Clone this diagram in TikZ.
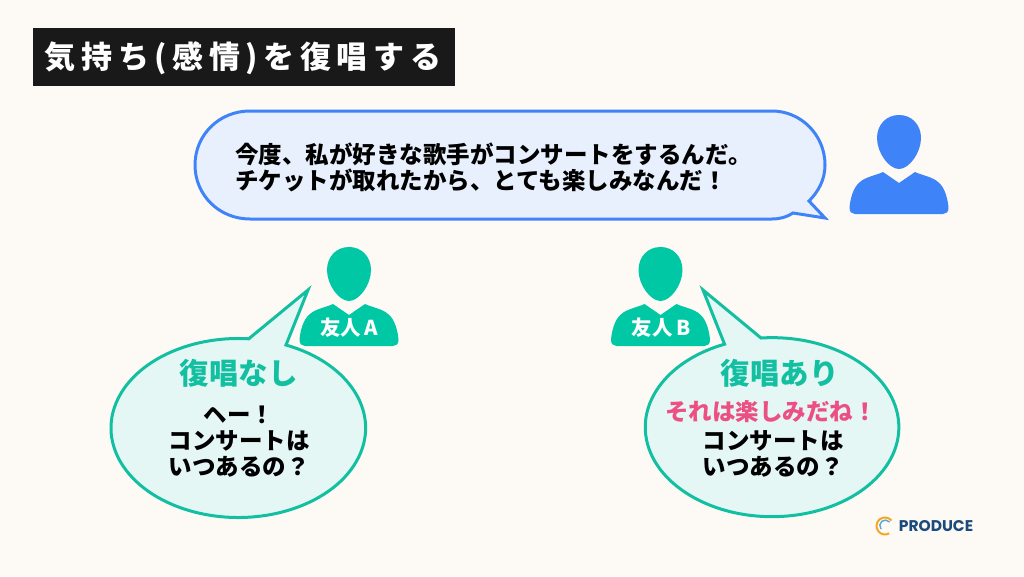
\documentclass[tikz,border=0pt]{standalone}
\usepackage{fontspec}
\setmainfont{Noto Sans CJK JP}
\newfontfamily\logofont{Poppins}
\definecolor{paper}{HTML}{FDFAF5}
\definecolor{speaker}{HTML}{3F83F8}
\definecolor{speakerfill}{HTML}{E9F0FD}
\definecolor{friend}{HTML}{12BFA0}
\definecolor{friendbody}{HTML}{00C8A5}
\definecolor{friendfill}{HTML}{E4F7F5}
\definecolor{accent}{HTML}{EC5082}
\definecolor{logoblue}{HTML}{1C4A7C}
\definecolor{logoorange}{HTML}{F5A623}
\definecolor{logosky}{HTML}{4FA8D8}

\begin{document}
\begin{tikzpicture}[x=1pt, y=-1pt,
    every node/.style={font=\bfseries, align=center, inner sep=0pt},
    body/.style={font=\bfseries\fontsize{23.5}{26}\selectfont},
    heading/.style={font=\bfseries\fontsize{29.5}{32}\selectfont, text=friend},
    badge/.style={font=\bfseries\fontsize{20.5}{22}\selectfont, text=white},
    bubble/.style={draw=friend, fill=friendfill, line width=3pt, miter limit=10},
    pics/person/.style={code={
        \fill[#1] (0,0) .. controls (13,0) and (22,10) .. (22,23) .. controls (22,38) and (10,54) .. (0,54)
            .. controls (-10,54) and (-22,38) .. (-22,23) .. controls (-22,10) and (-13,0) .. (0,0) -- cycle;
        \fill[#1] (0,68) -- (16,57) .. controls (22,60) and (34,62) .. (39,67) .. controls (46,72) and (49,85) .. (49.5,93)
            .. controls (49.5,97) and (47,99) .. (44,99) -- (-44,99) .. controls (-47,99) and (-49.5,97) .. (-49.5,93)
            .. controls (-49,85) and (-46,72) .. (-39,67) .. controls (-34,62) and (-22,60) .. (-16,57) -- cycle;
    }}]
        \useasboundingbox (0,0) rectangle (1024,576);
        \fill[paper] (0,0) rectangle (1024,576);

        % Title
        \fill[black!90] (33,28) rectangle (455,86);
        \node (Title) at (243,58) [text=white, font=\bfseries\fontsize{31}{32}\selectfont\addfontfeatures{LetterSpace=18}] {気持ち(感情)を復唱する};

        % Persons
        \pic (Speaker) at (899,115) {person=speaker};
        \pic (FriendA) at (349,247) {person=friendbody};
        \pic (FriendB) at (660.5,247) {person=friendbody};
        \node (LabelA) at (349,328) [badge] {友人\,A};
        \node (LabelB) at (661,328) [badge] {友人\,B};

        % Bubbles
        \draw[bubble, draw=speaker, fill=speakerfill] (809,201) -- (825,218) -- (793,213)
            .. controls (787,217) and (780,219) .. (772,219) -- (250,219)
            .. controls (219,219) and (195,195) .. (195,165) .. controls (195,135) and (219,111) .. (250,111) -- (772,111)
            .. controls (801,111) and (825,135) .. (825,165) .. controls (825,180) and (818,192) .. (809,201) -- cycle;
        \draw[bubble] (286,345) arc[start angle=-68, end angle=274.7, x radius=127.3, y radius=89.5] -- (308,290) -- cycle;
        \draw[bubble] (761,338) arc[start angle=-95, end angle=248, x radius=126.8, y radius=89.5] -- (703,290) -- cycle;

        % Texts
        \node (Talk) at (235,167) [body, anchor=west, align=left] {今度、私が好きな歌手がコンサートをするんだ。\\チケットが取れたから、とても楽しみなんだ！};
        \node (NoEcho) at (238.5,373) [heading] {復唱なし};
        \node (ReplyA) at (239,442) [body] {ヘー！\\コンサートは\\いつあるの？};
        \node (Echo) at (779.5,373) [heading] {復唱あり};
        \node (Joy) at (771,412) [body, text=accent] {それは楽しみだね！};
        \node (ReplyB) at (773,454) [body] {コンサートは\\いつあるの？};

        % Logo
        \draw[logoorange, line width=2pt] (891.5,520.5) arc[start angle=-40, end angle=-300, radius=8.5];
        \draw[logosky, line width=1.4pt] (889.5,522) arc[start angle=-40, end angle=-220, radius=5.5];
        \node (Logo) at (936,526) [text=logoblue, font=\logofont\bfseries\fontsize{15.5}{16}\selectfont] {PRODUCE};
    \end{tikzpicture}
\end{document}
